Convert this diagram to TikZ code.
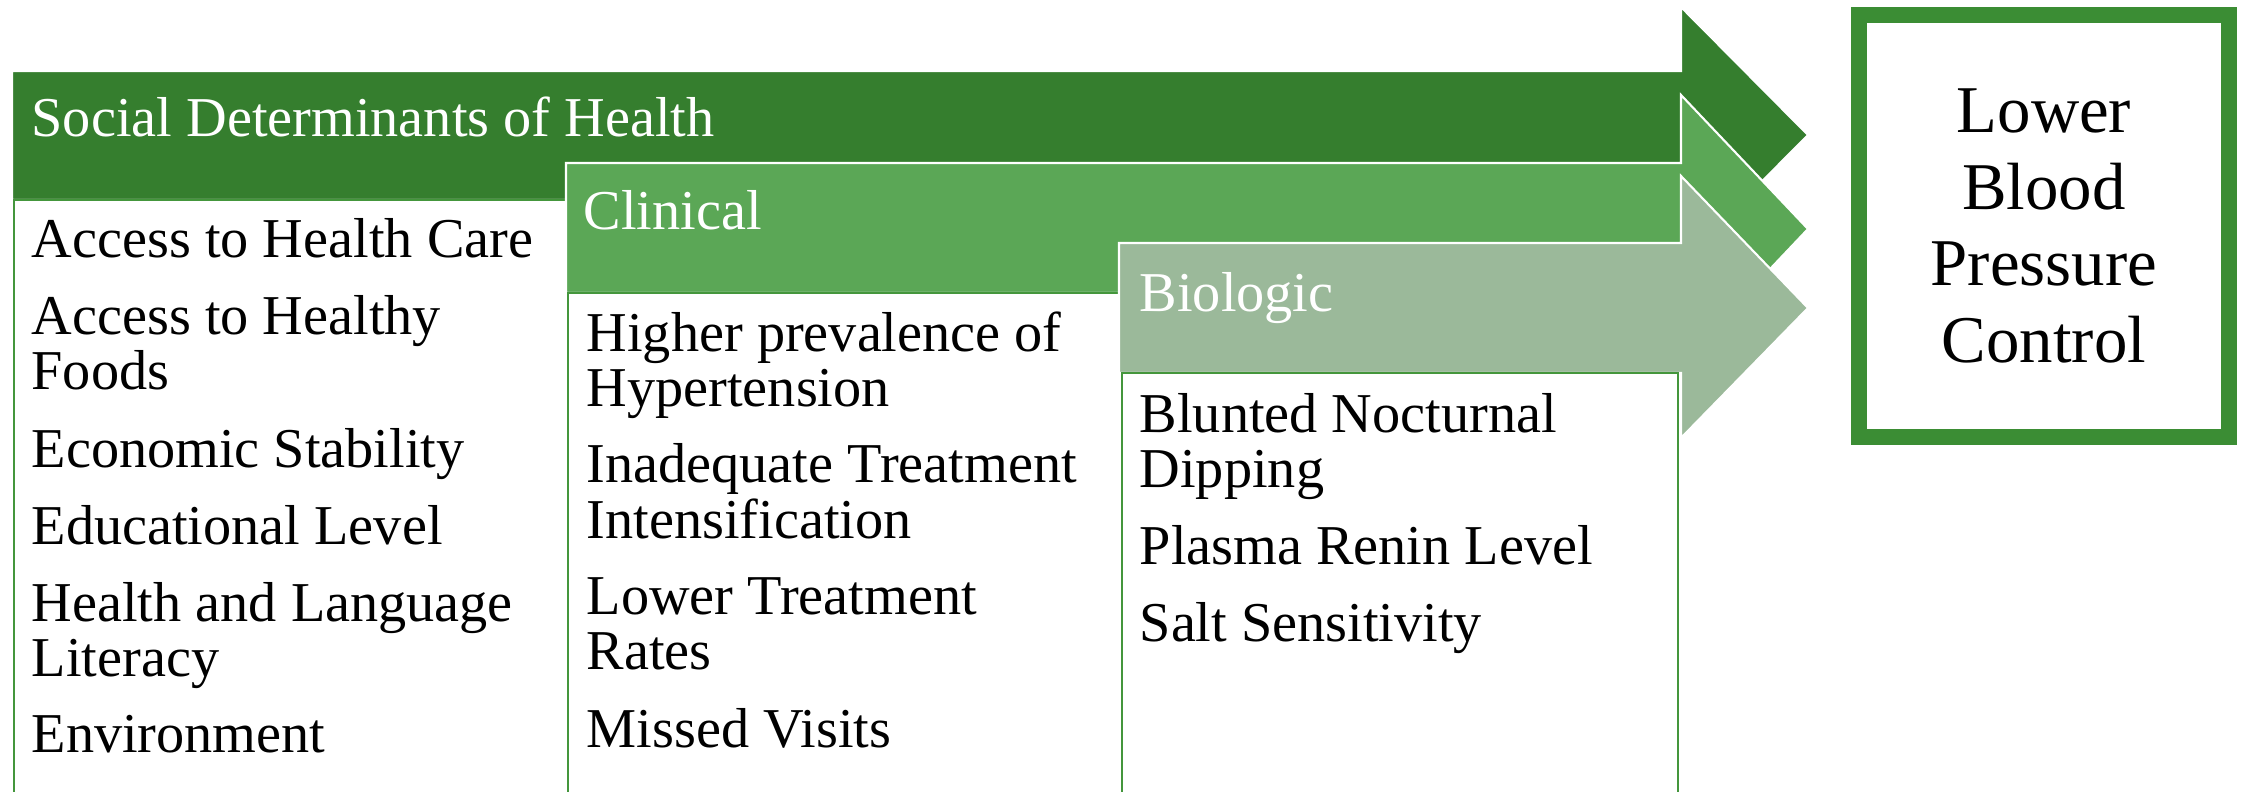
\documentclass[tikz,border=0pt]{standalone}
\usepackage{fontspec}
\setmainfont{Liberation Serif}
\definecolor{sdhgreen}{RGB}{53,126,46}
\definecolor{clingreen}{RGB}{91,167,86}
\definecolor{biogreen}{RGB}{155,185,154}
\definecolor{goalgreen}{RGB}{59,141,52}
\definecolor{rulegreen}{RGB}{68,150,60}
\tikzset{
  band/.style={draw=white, line width=0.6pt, line join=miter},
  colbox/.style={draw=rulegreen, fill=white, line width=0.6pt},
  head/.style={anchor=base west, inner sep=0pt, text=white, font=\fontsize{16}{16}\selectfont},
  item/.style={anchor=base west, inner sep=0pt, font=\fontsize{16}{16}\selectfont},
  goalbox/.style={draw=goalgreen, line width=4.6pt, fill=white, align=center,
    minimum width=3.70cm, minimum height=4.21cm, inner sep=0pt,
    font=\fontsize{19}{21.8}\selectfont}
}
\begin{document}
\begin{tikzpicture}[x=0.01cm, y=-0.01cm]
  \useasboundingbox (0,0) rectangle (2242,792);
  \clip (0,0) rectangle (2242,792);
  % social determinants
  \fill[sdhgreen, band] (12,71) -- (1681,71) -- (1681,7) -- (1808,135)
    -- (1681,263) -- (1681,200) -- (12,200) -- cycle;
  \draw[colbox] (14,200) rectangle (568,820);
  \node[head] (sdh) at (31,137) {Social Determinants of Health};
  \foreach \y/\t [count=\i] in {258/Access to Health Care, 335/Access to Healthy,
      390/Foods, 468/Economic Stability, 545/Educational Level,
      622/Health and Language, 677/Literacy, 753/Environment}
    \node[item] (sdh-\i) at (31,\y) {\t};
  % clinical
  \fill[clingreen, band] (566,163) -- (1681,163) -- (1681,95) -- (1808,229)
    -- (1681,363) -- (1681,293) -- (566,293) -- cycle;
  \draw[colbox] (568,293) rectangle (1122,820);
  \node[head] (clin) at (583,230) {Clinical};
  \foreach \y/\t [count=\i] in {352/Higher prevalence of, 407/Hypertension,
      483/Inadequate Treatment, 539/Intensification, 615/Lower Treatment,
      670/Rates, 748/Missed Visits}
    \node[item] (clin-\i) at (586,\y) {\t};
  % biologic
  \fill[biogreen, band] (1119,243) -- (1681,243) -- (1681,176) -- (1808,308)
    -- (1681,438) -- (1681,373) -- (1119,373) -- cycle;
  \draw[colbox] (1122,373) rectangle (1678,820);
  \node[head] (bio) at (1139,312) {Biologic};
  \foreach \y/\t [count=\i] in {433/Blunted Nocturnal, 488/Dipping,
      565/Plasma Renin Level, 642/Salt Sensitivity}
    \node[item] (bio-\i) at (1139,\y) {\t};
  % outcome
  \node[goalbox] (goal) at (2044,226) {Lower\\Blood\\Pressure\\Control};
\end{tikzpicture}
\end{document}
